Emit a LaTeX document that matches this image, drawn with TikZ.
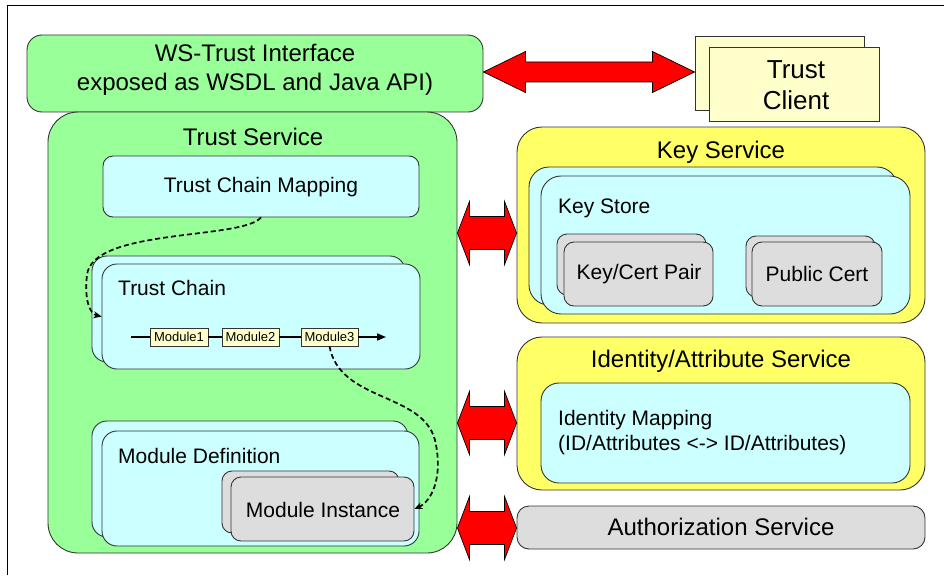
\documentclass[tikz,border=0pt]{standalone}
\usepackage{fontspec}
\setmainfont{Liberation Sans}
\usetikzlibrary{arrows.meta,calc}

\definecolor{svcgreen}{HTML}{99FF99}
\definecolor{svcyellow}{HTML}{FFFF66}
\definecolor{paleyellow}{HTML}{FFFFCC}
\definecolor{palecyan}{HTML}{CCFFFF}
\definecolor{palegray}{HTML}{DDDDDD}
\definecolor{linkred}{HTML}{FF0000}

% double-headed block arrow between two tip coordinates:
% #1 left tip, #2 right tip, #3 head half width, #4 shaft half width, #5 head length
\newcommand\redlink[5]{%
  \draw[redarrow] (#1) -- ($(#1)+(#5,-#3)$) -- ($(#1)+(#5,-#4)$)
    -- ($(#2)+(-#5,-#4)$) -- ($(#2)+(-#5,-#3)$) -- (#2)
    -- ($(#2)+(-#5,#3)$) -- ($(#2)+(-#5,#4)$)
    -- ($(#1)+(#5,#4)$) -- ($(#1)+(#5,#3)$) -- cycle;}

\begin{document}
\begin{tikzpicture}[x=1pt,y=-1pt,
  panel/.style={draw=black!80, line width=0.9pt, inner sep=0pt, rounded corners=#1},
  panel/.default=12pt,
  green/.style={panel=#1, fill=svcgreen},
  yellow/.style={panel=#1, fill=svcyellow},
  cyan/.style={panel=#1, fill=palecyan},
  gray/.style={panel=#1, fill=palegray},
  sheet/.style={draw=black!80, line width=0.9pt, inner sep=0pt, fill=paleyellow},
  module/.style={draw=black!80, line width=0.7pt, inner sep=0pt, fill=paleyellow,
    minimum height=18pt, font=\fontsize{13}{15}\selectfont},
  head/.style={font=\fontsize{24}{29}\selectfont, align=center, inner sep=0pt},
  sub/.style={font=\fontsize{21}{25}\selectfont, inner sep=0pt},
  redarrow/.style={draw=black, line width=0.7pt, fill=linkred, line join=miter},
  flow/.style={draw=black, line width=1.7pt, dash pattern=on 5pt off 3pt,
    -{Stealth[length=8pt,width=7pt]}},
  chain/.style={draw=black, line width=1.6pt}
]
\useasboundingbox (0,0) rectangle (944,575);

% page frame
\draw[line width=0.9pt] (944,5) -- (7,5) -- (7,575);

% ---- WS-Trust interface and client ----
\node[green=15pt, minimum width=456pt, minimum height=77pt] (ws) at (255,73.5) {};
\node[head] (wstext) at (255,70) {WS-Trust Interface\\exposed as WSDL and Java API)};

\node[sheet, minimum width=169pt, minimum height=74pt] (clientback) at (779.5,73) {};
\node[sheet, minimum width=170pt, minimum height=74pt] (client) at (794,84) {};
\node[head, font=\fontsize{26}{31}\selectfont] (clienttext) at (796,85) {Trust\\Client};

% ---- Trust service ----
\node[green=30pt, minimum width=409pt, minimum height=441pt] (ts) at (252.5,332.5) {};
\node[head] (tstitle) at (253,137) {Trust Service};

\node[cyan=10pt, minimum width=316pt, minimum height=61pt] (tcm) at (261,186.5) {};
\node[sub] (tcmtext) at (261,187) {Trust Chain Mapping};

\node[cyan=15pt, minimum width=313pt, minimum height=106pt] (tcb) at (248.5,309) {};
\node[cyan=15pt, minimum width=318pt, minimum height=105pt] (tcf) at (261,316.5) {};
\node[sub, anchor=west] (tctext) at (118,288) {Trust Chain};

\coordinate (cs) at (131,337);
\coordinate (ce) at (386,337);
\node[module, minimum width=58pt] (m1) at (179,337) {Module1};
\node[module, minimum width=57pt] (m2) at (250.5,337) {Module2};
\node[module, minimum width=57pt] (m3) at (329.5,337) {Module3};
\draw[chain] (cs) -- (m1);
\draw[chain] (m1) -- (m2);
\draw[chain] (m2) -- (m3);
\draw[chain, -{Triangle[length=9pt,width=7pt]}] (m3) -- (ce);

\node[cyan=15pt, minimum width=316pt, minimum height=116pt] (mdb) at (250,479) {};
\node[cyan=15pt, minimum width=317pt, minimum height=115pt] (mdf) at (260.5,488.5) {};
\node[sub, anchor=west] (mdtext) at (118,456) {Module Definition};

\node[gray=10pt, minimum width=177pt, minimum height=62pt] (mib) at (310.5,502) {};
\node[gray=10pt, minimum width=183pt, minimum height=64pt] (mif) at (322.5,509) {};
\node[sub] (mitext) at (323,510) {Module Instance};

% dashed flows
\draw[flow] (tcm.south) .. controls (242,240) and (92,228) .. (87,275)
  .. controls (84,300) and (90,314) .. (tcf.west);
\draw[flow] (m3.south) .. controls (340,402) and (422,392) .. (435,440)
  .. controls (444,480) and (430,502) .. (mif.east);

% ---- Key service ----
\node[yellow=25pt, minimum width=408pt, minimum height=196pt] (ks) at (721,225) {};
\node[head] (kstitle) at (721,152) {Key Service};
\node[cyan=20pt, minimum width=368pt, minimum height=138pt] (kstb) at (713,236) {};
\node[cyan=20pt, minimum width=369pt, minimum height=138pt] (kst) at (725.5,245) {};
\node[sub, anchor=west] (ksttext) at (558,208) {Key Store};

\node[gray=10pt, minimum width=149pt, minimum height=61pt] (kcb) at (631.5,264.5) {};
\node[gray=10pt, minimum width=149pt, minimum height=64pt] (kc) at (638.5,274) {};
\node[sub] (kctext) at (639,274) {Key/Cert Pair};

\node[gray=10pt, minimum width=129pt, minimum height=61pt] (pcb) at (810.5,266.5) {};
\node[gray=10pt, minimum width=130pt, minimum height=64pt] (pc) at (817,274) {};
\node[sub] (pctext) at (817,274) {Public Cert};

% ---- Identity / attribute service ----
\node[yellow=25pt, minimum width=408pt, minimum height=153pt] (ids) at (721,413.5) {};
\node[head] (idstitle) at (721,361) {Identity/Attribute Service};
\node[cyan=18pt, minimum width=369pt, minimum height=100pt] (idm) at (725.5,433) {};
\node[sub, anchor=west] (idmtext1) at (558,420) {Identity Mapping};
\node[sub, anchor=west] (idmtext2) at (558,445) {(ID/Attributes <-> ID/Attributes)};

% ---- Authorization service ----
\node[gray=12pt, minimum width=408pt, minimum height=43pt] (az) at (721,527.5) {};
\node[head] (aztext) at (721,527) {Authorization Service};

% ---- red block arrows ----
\coordinate (a0l) at (ws.east |- 0,72);
\coordinate (a0r) at (clientback.west |- 0,72);
\redlink{a0l}{a0r}{20.5}{10}{42}
\coordinate (a1l) at (ts.east |- 0,233);
\coordinate (a1r) at (ks.west |- 0,233);
\redlink{a1l}{a1r}{31.5}{16.5}{12}
\coordinate (a2l) at (ts.east |- 0,423);
\coordinate (a2r) at (ids.west |- 0,423);
\redlink{a2l}{a2r}{31.5}{16.5}{12}
\coordinate (a3l) at (ts.east |- 0,528);
\coordinate (a3r) at (az.west |- 0,528);
\redlink{a3l}{a3r}{31.5}{16.5}{12}
\end{tikzpicture}
\end{document}
